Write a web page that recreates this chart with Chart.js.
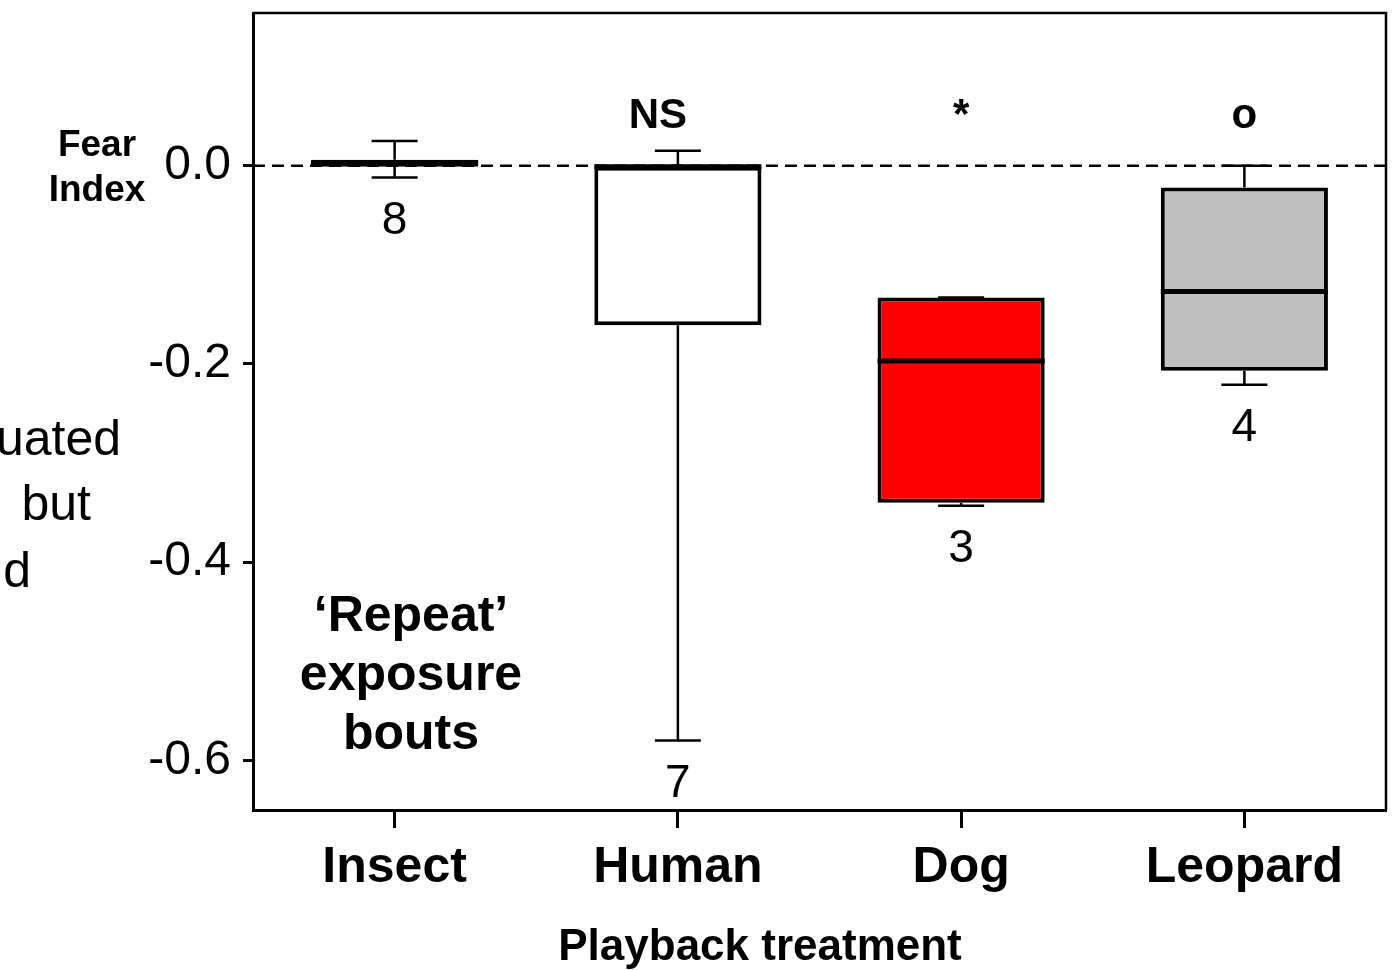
<!DOCTYPE html>
<html>
<head>
<meta charset="utf-8">
<script src="https://cdn.jsdelivr.net/npm/chart.js@4.4.1/dist/chart.umd.min.js"></script>
<style>
    html, body { margin: 0; padding: 0; background: #fff; }
    #wrap { width: 1398px; height: 970px; position: relative; }
</style>
</head>
<body>
<div id="wrap"><canvas id="chart" width="1398" height="970"></canvas></div>
<script>
// Fear index per playback treatment ('repeat' exposure bouts)
const categories = ['Insect', 'Human', 'Dog', 'Leopard'];
const whiskerLow = [-0.012, -0.580, -0.343, -0.221];
const boxLow = [-0.001, -0.161, -0.340, -0.207];
const medians = [0.003, -0.001, -0.197, -0.127];
const boxHigh = [0.006, -0.001, -0.133, -0.022];
const whiskerHigh = [0.025, 0.015, -0.133, 0.000];
const sampleSizes = ['8', '7', '3', '4'];
const significance = ['', 'NS', '*', 'o'];
const yTicks = [-0.6, -0.4, -0.2, 0];
const boxColors = ['#000000', '#ffffff', '#ff0000', '#c0c0c0'];

const FONT = "'Liberation Sans', Arial, Helvetica, sans-serif";
Chart.defaults.font.family = FONT;
Chart.defaults.color = '#000';

const boxPlotPlugin = {
    id: 'boxPlot',
    beforeDatasetsDraw(chart) {
        const { ctx, chartArea, scales: { x, y } } = chart;
        const zero = y.getPixelForValue(0);

        ctx.save();
        ctx.strokeStyle = '#000';
        ctx.lineWidth = 2.5;
        ctx.setLineDash([12, 7]);
        ctx.beginPath();
        ctx.moveTo(chartArea.left, zero);
        ctx.lineTo(chartArea.right, zero);
        ctx.stroke();
        ctx.setLineDash([]);

        // whiskers sit behind the boxes
        const capHalf = 23;
        categories.forEach((cat, i) => {
            const cx = x.getPixelForValue(i);
            const lo = y.getPixelForValue(whiskerLow[i]);
            const hi = y.getPixelForValue(whiskerHigh[i]);
            ctx.lineWidth = 2.5;
            ctx.beginPath();
            ctx.moveTo(cx, lo);
            ctx.lineTo(cx, y.getPixelForValue(boxLow[i]));
            ctx.moveTo(cx, y.getPixelForValue(boxHigh[i]));
            ctx.lineTo(cx, hi);
            ctx.moveTo(cx - capHalf, lo);
            ctx.lineTo(cx + capHalf, lo);
            ctx.moveTo(cx - capHalf, hi);
            ctx.lineTo(cx + capHalf, hi);
            ctx.stroke();
        });
        ctx.restore();
    },
    afterDatasetsDraw(chart) {
        const { ctx, scales: { x, y } } = chart;
        const meta = chart.getDatasetMeta(0);

        ctx.save();
        ctx.strokeStyle = '#000';
        ctx.fillStyle = '#000';
        meta.data.forEach((bar, i) => {
            const half = bar.width / 2;
            const my = y.getPixelForValue(medians[i]);
            ctx.lineWidth = 5;
            ctx.beginPath();
            ctx.moveTo(bar.x - half, my);
            ctx.lineTo(bar.x + half, my);
            ctx.stroke();

            // sample size under the lower whisker
            ctx.font = `46px ${FONT}`;
            ctx.textAlign = 'center';
            ctx.textBaseline = 'middle';
            ctx.fillText(sampleSizes[i], bar.x, y.getPixelForValue(whiskerLow[i]) + 44);

            // significance mark above
            if (significance[i]) {
                ctx.font = `bold 42px ${FONT}`;
                ctx.textBaseline = 'alphabetic';
                ctx.fillText(significance[i], bar.x - (i === 1 ? 20 : 0), 128);
            }
        });
        ctx.restore();
    },
    afterDraw(chart) {
        const { ctx, chartArea } = chart;
        ctx.save();
        ctx.strokeStyle = '#000';
        ctx.lineWidth = 2.5;
        ctx.beginPath();
        ctx.moveTo(chartArea.left, chartArea.top);
        ctx.lineTo(chartArea.right, chartArea.top);
        ctx.lineTo(chartArea.right, chartArea.bottom);
        ctx.stroke();

        ctx.fillStyle = '#000';
        ctx.textAlign = 'center';
        ctx.textBaseline = 'middle';
        ctx.font = `bold 37px ${FONT}`;
        ctx.fillText('Fear', 97, 146);
        ctx.fillText('Index', 97, 191);

        ctx.font = `bold 50px ${FONT}`;
        ctx.fillText('\u2018Repeat\u2019', 411, 617);
        ctx.fillText('exposure', 411, 676);
        ctx.fillText('bouts', 411, 735);

        ctx.font = `bold 44px ${FONT}`;
        ctx.fillText('Playback treatment', 760, 948);

        // text cut off from the neighbouring panel
        ctx.font = `50px ${FONT}`;
        ctx.textAlign = 'right';
        ctx.fillText('uated', 121, 441);
        ctx.fillText('but', 91, 506);
        ctx.fillText('d', 31, 573);
        ctx.restore();
    }
};

new Chart(document.getElementById('chart'), {
    type: 'bar',
    data: {
        labels: categories,
        datasets: [{
            data: categories.map((c, i) => [boxLow[i], boxHigh[i]]),
            backgroundColor: boxColors,
            borderColor: '#000',
            borderWidth: 4,
            borderSkipped: false,
            barPercentage: 0.59,
            categoryPercentage: 1
        }]
    },
    options: {
        responsive: false,
        animation: false,
        devicePixelRatio: 1,
        layout: { padding: { top: 13, right: 12, left: 0, bottom: 0 } },
        plugins: {
            legend: { display: false },
            tooltip: { enabled: false }
        },
        scales: {
            x: {
                grid: {
                    display: true,
                    drawOnChartArea: false,
                    drawTicks: true,
                    offset: false,
                    tickLength: 18,
                    tickWidth: 3,
                    tickColor: '#000'
                },
                border: { display: true, color: '#000', width: 3 },
                ticks: {
                    font: { size: 50, weight: 'bold' },
                    color: '#000',
                    padding: 10,
                    maxRotation: 0
                },
                afterFit(scale) {
                    scale.height = 160;
                    scale.paddingLeft = 0;
                    scale.paddingRight = 0;
                }
            },
            y: {
                min: -0.65,
                max: 0.154,
                afterBuildTicks(scale) {
                    scale.ticks = yTicks.map(v => ({ value: v }));
                },
                ticks: {
                    callback: v => (v === 0 ? '0.0' : v.toFixed(1)),
                    font: { size: 48 },
                    color: '#000',
                    padding: 12
                },
                grid: {
                    drawOnChartArea: false,
                    tickLength: 10,
                    tickWidth: 3,
                    tickColor: '#000'
                },
                border: { color: '#000', width: 3 },
                afterFit(scale) {
                    scale.width = 253;
                    scale.paddingTop = 0;
                    scale.paddingBottom = 0;
                }
            }
        }
    },
    plugins: [boxPlotPlugin]
});
</script>
</body>
</html>
